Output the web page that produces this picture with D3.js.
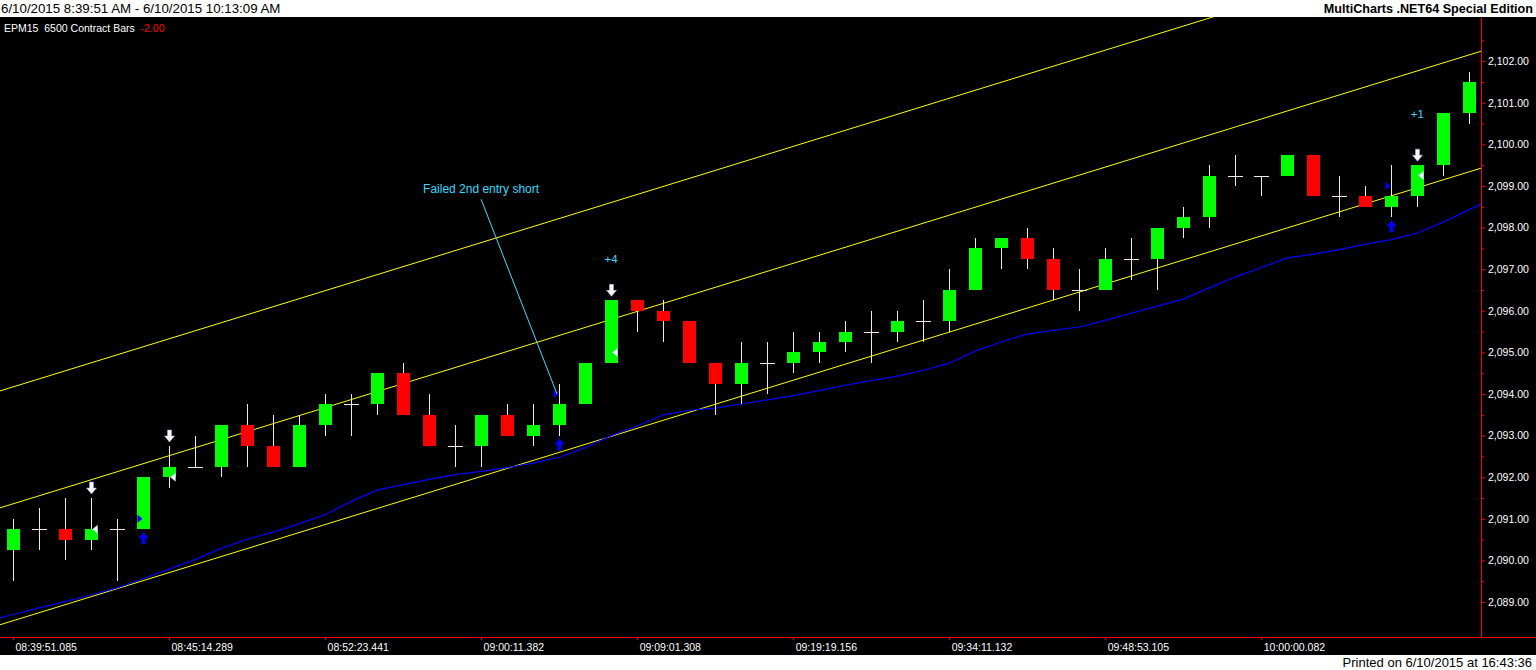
<!DOCTYPE html>
<html>
<head>
<meta charset="utf-8">
<script src="https://cdn.jsdelivr.net/npm/d3@7"></script>
<style>
  html, body { margin: 0; padding: 0; background: #fff; }
  svg { display: block; }
  text { font-family: "Liberation Sans", Arial, sans-serif; }
</style>
</head>
<body>
<svg id="chart" width="1536" height="670"></svg>
<script>
// Bars (6500 contract bars, EPM15)
var opens  = [2090.25,2090.75,2090.75,2090.5,2090.75,2090.75,2092,2092.25,2092.25,2093.25,
              2092.75,2092.25,2093.25,2093.75,2093.75,2094.5,2093.5,2092.75,2092.75,2093.5,
              2093,2093.25,2093.75,2094.75,2096.25,2096,2095.75,2094.75,2094.25,2094.75,
              2094.75,2095,2095.25,2095.5,2095.5,2095.75,2095.75,2096.5,2097.5,2097.75,
              2097.25,2096.5,2096.5,2097.25,2097.25,2098,2098.25,2099.25,2099.25,2099.25,
              2099.75,2098.75,2098.75,2098.5,2098.75,2099.5,2100.75];
var highs  = [2091,2091.25,2091.5,2091.5,2091,2092,2092.75,2093,2093.25,2093.75,
              2093.5,2093.5,2094,2094,2094.5,2094.75,2094,2093.25,2093.5,2093.75,
              2093.75,2094.25,2094.75,2096.25,2096.25,2096.25,2095.75,2094.75,2095.25,2095.25,
              2095.5,2095.5,2095.75,2096,2096,2096.25,2097,2097.75,2097.75,2098,
              2097.5,2097,2097.5,2097.75,2098,2098.5,2099.5,2099.75,2099.25,2099.75,
              2099.75,2099.25,2099,2099.5,2099.5,2100.75,2101.75];
var lows   = [2089.5,2090.25,2090,2090.25,2089.5,2090.75,2091.75,2092.25,2092,2092.25,
              2092.25,2092.25,2093,2093,2093.5,2093.5,2092.75,2092.25,2092.25,2093,
              2092.75,2093,2093.75,2094.75,2095.5,2095.25,2094.75,2093.5,2093.75,2094,
              2094.5,2094.75,2095,2094.75,2095.25,2095.25,2095.5,2096.5,2097,2097,
              2096.25,2096,2096.5,2096.75,2096.5,2097.75,2098,2099,2098.75,2099.25,
              2098.75,2098.25,2098.5,2098.25,2098.5,2099.25,2100.5];
var closes = [2090.75,2090.75,2090.5,2090.75,2090.75,2092,2092.25,2092.25,2093.25,2092.75,
              2092.25,2093.25,2093.75,2093.75,2094.5,2093.5,2092.75,2092.75,2093.5,2093,
              2093.25,2093.75,2094.75,2096.25,2096,2095.75,2094.75,2094.25,2094.75,2094.75,
              2095,2095.25,2095.5,2095.5,2095.75,2095.75,2096.5,2097.5,2097.75,2097.25,
              2096.5,2096.5,2097.25,2097.25,2098,2098.25,2099.25,2099.25,2099.25,2099.75,
              2098.75,2098.75,2098.5,2098.75,2099.5,2100.75,2101.5];

// blue moving average, one value per bar
var maValues = [2088.70,2088.86,2089.01,2089.17,2089.34,2089.56,2089.79,2090.02,2090.29,2090.51,
                2090.68,2090.88,2091.10,2091.42,2091.69,2091.82,2091.95,2092.06,2092.14,2092.23,
                2092.34,2092.48,2092.71,2093.00,2093.23,2093.50,2093.61,2093.66,2093.76,2093.86,
                2093.96,2094.08,2094.21,2094.32,2094.43,2094.57,2094.74,2095.03,2095.25,2095.44,
                2095.53,2095.61,2095.77,2095.94,2096.11,2096.28,2096.55,2096.81,2097.04,2097.27,
                2097.36,2097.47,2097.60,2097.71,2097.87,2098.13,2098.43];

// regression channel: midline at two bars, plus half width
var channelBars = [0, 56];
var channelMid = [2091.36, 2102.15];
var channelOffset = 2.81;

// x axis labels (every 6th bar)
var labelBars = [0, 6, 12, 18, 24, 30, 36, 42, 48];
var timeLabels = ["08:39:51.085","08:45:14.289","08:52:23.441","09:00:11.382","09:09:01.308",
                  "09:19:19.156","09:34:11.132","09:48:53.105","10:00:00.082"];
var priceTicks = [2089,2090,2091,2092,2093,2094,2095,2096,2097,2098,2099,2100,2101,2102];

// strategy markers
var entryBars = [5, 21, 53];
var entryPrices = [2091.0, 2094.0, 2099.0];
var exitBars = [3, 6, 23, 54];
var exitPrices = [2090.75, 2092.0, 2095.0, 2099.25];
var profitBars = [23, 54];
var profitPrices = [2097.24, 2100.73];
var profitTexts = ["+4", "+1"];

var noteText = "Failed 2nd entry short";
var noteBar = 18, notePrice = 2098.92;
var noteLineBars = [18, 20.92];
var noteLinePrices = [2098.68, 2094.0];

var W = 1536, H = 670;
var plot = {left: 0, right: 1481, top: 17, bottom: 637};

var svg = d3.select("#chart");

// backgrounds
svg.append("rect").attr("width", W).attr("height", H).attr("fill", "#fff");
svg.append("rect").attr("x", 0).attr("y", plot.top).attr("width", W).attr("height", 655 - plot.top)
  .attr("fill", "#000");

var x = d3.scaleLinear().domain([-0.5, 56.45]).range([plot.left, plot.right]);
var y = d3.scaleLinear().domain([2088.16, 2103.06]).range([plot.bottom, plot.top]);

svg.append("clipPath").attr("id", "plotclip").append("rect")
  .attr("x", plot.left).attr("y", plot.top)
  .attr("width", plot.right - plot.left).attr("height", plot.bottom - plot.top);

var g = svg.append("g").attr("clip-path", "url(#plotclip)");

// channel lines, extended over the whole plot
var slope = (channelMid[1] - channelMid[0]) / (channelBars[1] - channelBars[0]);
var x0 = x.domain()[0], x1 = x.domain()[1];
[-channelOffset, 0, channelOffset].forEach(function(off) {
  var p0 = channelMid[0] + off + slope * (x0 - channelBars[0]);
  var p1 = channelMid[0] + off + slope * (x1 - channelBars[0]);
  g.append("line")
    .attr("x1", x(x0)).attr("y1", y(p0))
    .attr("x2", x(x1)).attr("y2", y(p1))
    .attr("stroke", "#ffff00").attr("stroke-width", 1);
});

// moving average (ends run on to the plot edges along the first/last segment)
var maPts = maValues.map(function(v, i) { return [i, v]; });
var n = maValues.length;
maPts.unshift([x0, maValues[0] + (maValues[0] - maValues[1]) * (0 - x0)]);
maPts.push([x1, maValues[n - 1] + (maValues[n - 1] - maValues[n - 2]) * (x1 - (n - 1))]);
g.append("path")
  .datum(maPts)
  .attr("fill", "none")
  .attr("stroke", "#0000ff")
  .attr("stroke-width", 1.2)
  .attr("d", d3.line().x(function(d) { return x(d[0]); }).y(function(d) { return y(d[1]); }));

// candles
var bars = opens.map(function(o, i) {
  return {i: i, o: o, h: highs[i], l: lows[i], c: closes[i]};
});

var wickColor = "#f6e4e4";
var cg = g.append("g").attr("shape-rendering", "crispEdges");

cg.selectAll("line.wick").data(bars).enter().append("line")
  .attr("class", "wick")
  .attr("x1", function(d) { return Math.round(x(d.i)) + 0.5; })
  .attr("x2", function(d) { return Math.round(x(d.i)) + 0.5; })
  .attr("y1", function(d) { return y(d.h); })
  .attr("y2", function(d) { return y(d.l); })
  .attr("stroke", wickColor).attr("stroke-width", 1);

cg.selectAll("rect.body").data(bars.filter(function(d) { return d.o !== d.c; })).enter().append("rect")
  .attr("class", "body")
  .attr("x", function(d) { return Math.round(x(d.i)) - 6; })
  .attr("width", 13)
  .attr("y", function(d) { return y(Math.max(d.o, d.c)); })
  .attr("height", function(d) { return y(Math.min(d.o, d.c)) - y(Math.max(d.o, d.c)); })
  .attr("fill", function(d) { return d.c > d.o ? "#00ff00" : "#ff0000"; });

cg.selectAll("line.doji").data(bars.filter(function(d) { return d.o === d.c; })).enter().append("line")
  .attr("class", "doji")
  .attr("x1", function(d) { return Math.round(x(d.i)) - 7; })
  .attr("x2", function(d) { return Math.round(x(d.i)) + 8; })
  .attr("y1", function(d) { return Math.round(y(d.c)) + 0.5; })
  .attr("y2", function(d) { return Math.round(y(d.c)) + 0.5; })
  .attr("stroke", wickColor).attr("stroke-width", 1);

// entry markers: blue up arrow under the bar, triangle at the entry price
entryBars.forEach(function(b, k) {
  var bx = Math.round(x(b)) + 0.5, top = y(lows[b]) + 3;
  g.append("path")
    .attr("d", "M-2,12 H2 V6 H5 L0,0 L-5,6 H-2 Z")
    .attr("transform", "translate(" + bx + "," + top + ")")
    .attr("fill", "#0000ff");
  var py = y(entryPrices[k]);
  g.append("path")
    .attr("d", "M" + (bx - 6) + "," + (py - 4) + " L" + (bx - 1) + "," + py + " L" + (bx - 6) + "," + (py + 4) + " Z")
    .attr("fill", "#0000ff");
});

// exit markers: white down arrow over the bar, triangle at exit price
exitBars.forEach(function(b, k) {
  var bx = Math.round(x(b)) + 0.5, top = y(highs[b]) - 16;
  g.append("path")
    .attr("d", "M-2,0 H2 V6 H5 L0,12 L-5,6 H-2 Z")
    .attr("transform", "translate(" + bx + "," + top + ")")
    .attr("fill", "#fff4f0").attr("stroke", "#9bb8ff").attr("stroke-width", 0.5);
  var py = y(exitPrices[k]);
  g.append("path")
    .attr("d", "M" + (bx + 1) + "," + py + " L" + (bx + 6) + "," + (py - 4) + " L" + (bx + 6) + "," + (py + 4) + " Z")
    .attr("fill", "#f4f8ff").attr("stroke", "#a8c8ff").attr("stroke-width", 0.5);
});

// trade profit labels
profitBars.forEach(function(b, k) {
  g.append("text")
    .attr("x", x(b)).attr("y", y(profitPrices[k]))
    .attr("dy", "0.35em")
    .attr("text-anchor", "middle")
    .attr("font-size", "11.5px")
    .attr("fill", "#3fd8ff")
    .text(profitTexts[k]);
});

// annotation
g.append("line")
  .attr("x1", x(noteLineBars[0])).attr("y1", y(noteLinePrices[0]))
  .attr("x2", x(noteLineBars[1])).attr("y2", y(noteLinePrices[1]))
  .attr("stroke", "#33e4ff").attr("stroke-width", 1);
g.append("text")
  .attr("x", x(noteBar)).attr("y", y(notePrice))
  .attr("dy", "0.35em")
  .attr("text-anchor", "middle")
  .attr("font-size", "12px")
  .attr("fill", "#33d8ff")
  .text(noteText);

// price axis
var yAxis = d3.axisRight(y).tickValues(priceTicks).tickFormat(d3.format(",.2f"))
  .tickSize(4).tickSizeOuter(0).tickPadding(3);
var ya = svg.append("g").attr("transform", "translate(" + plot.right + ",0)").call(yAxis);
ya.selectAll(".tick").append("line")
  .attr("y1", function(d) { return y(d + 0.5) - y(d); })
  .attr("y2", function(d) { return y(d + 0.5) - y(d); })
  .attr("x2", 3).attr("stroke", "#ff0000");
ya.select(".domain").attr("stroke", "#ff0000");
ya.selectAll(".tick line").attr("stroke", "#ff0000");
ya.selectAll("text").attr("fill", "#fff").attr("font-size", "10.5px")
  .attr("font-family", "Liberation Sans, Arial, sans-serif");

// time axis
var xAxis = d3.axisBottom(x).tickValues(labelBars)
  .tickFormat(function(d, i) { return timeLabels[i]; })
  .tickSize(3).tickSizeOuter(0);
var xa = svg.append("g").attr("transform", "translate(0," + plot.bottom + ")").call(xAxis);
xa.select(".domain").remove();
xa.selectAll(".tick line").attr("stroke", "#ff0000");
xa.selectAll("text").attr("fill", "#fff").attr("font-size", "10.5px")
  .attr("text-anchor", "start").attr("x", 2).attr("y", 14).attr("dy", 0)
  .attr("font-family", "Liberation Sans, Arial, sans-serif");
svg.append("line")
  .attr("x1", 0).attr("x2", W)
  .attr("y1", plot.bottom + 0.5).attr("y2", plot.bottom + 0.5)
  .attr("stroke", "#ff0000").attr("stroke-width", 1);

// header and footer
svg.append("text").attr("x", 1).attr("y", 13)
  .attr("font-size", "13.3px").attr("fill", "#000")
  .text("6/10/2015 8:39:51 AM - 6/10/2015 10:13:09 AM");
svg.append("text").attr("x", 1533).attr("y", 13)
  .attr("text-anchor", "end").attr("font-size", "12.6px").attr("font-weight", "bold").attr("fill", "#000")
  .text("MultiCharts .NET64 Special Edition");

var legend = svg.append("text").attr("x", 4).attr("y", 32)
  .attr("font-size", "10.5px").attr("xml:space", "preserve").style("white-space", "pre");
legend.append("tspan").attr("fill", "#fff").text("EPM15  6500 Contract Bars  ");
legend.append("tspan").attr("fill", "#ff0000").text("-2.00");

svg.append("text").attr("x", 1532).attr("y", 667)
  .attr("text-anchor", "end").attr("font-size", "13px").attr("fill", "#000")
  .text("Printed on 6/10/2015 at 16:43:36");
</script>
</body>
</html>
